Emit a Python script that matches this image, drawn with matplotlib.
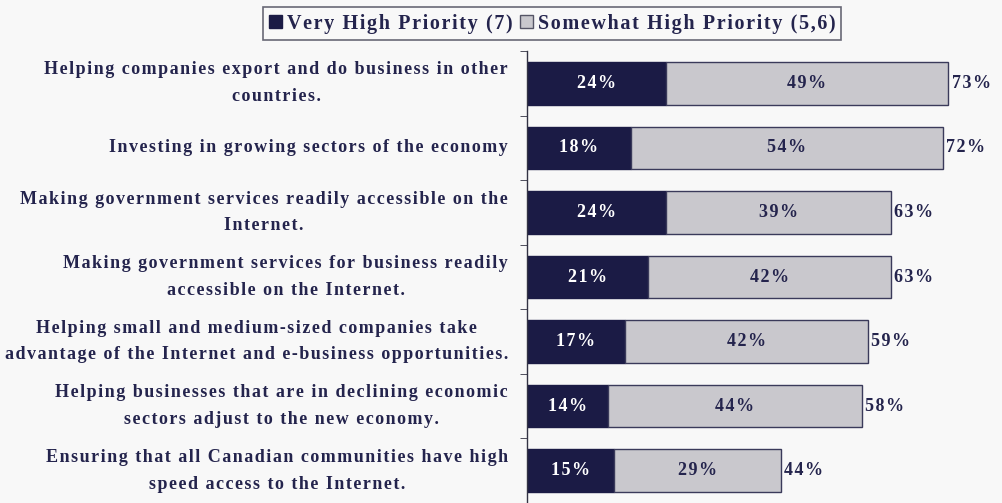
import matplotlib
matplotlib.use("Agg")
import matplotlib.pyplot as plt
from matplotlib.patches import Patch
import numpy as np

categories = [
    "Helping companies export and do business in other\ncountries.",
    "Investing in growing sectors of the economy",
    "Making government services readily accessible on the\nInternet.",
    "Making government services for business readily\naccessible on the Internet.",
    "Helping small and medium-sized companies take\nadvantage of the Internet and e-business opportunities.",
    "Helping businesses that are in declining economic\nsectors adjust to the new economy.",
    "Ensuring that all Canadian communities have high\nspeed access to the Internet.",
]
very_high = [24, 18, 24, 21, 17, 14, 15]
somewhat_high = [49, 54, 39, 42, 42, 44, 29]
totals = [73, 72, 63, 63, 59, 58, 44]
legend_labels = ["Very High Priority (7)", "Somewhat High Priority (5,6)"]

NAVY = "#1b1b45"
LIGHT = "#c9c8cd"
TEXT = "#24244d"
BG = "#f8f8f8"
FONTS = ["Liberation Serif", "DejaVu Serif"]
FS = 13


def track(s):
    """Widen letter spacing with hair spaces, line by line."""
    return "\n".join("\u200a".join(line) for line in s.split("\n"))


fig = plt.figure(figsize=(10.02, 5.03), dpi=100, facecolor=BG)
ax = fig.add_axes([527 / 1002, 0.0, 475 / 1002, 452 / 503])
ax.set_facecolor(BG)

y = np.arange(len(categories))
h = 0.66
ax.barh(y, very_high, height=h, color=NAVY, edgecolor=NAVY, linewidth=1.0)
ax.barh(y, somewhat_high, left=very_high, height=h, color=LIGHT,
        edgecolor="#3a3a5a", linewidth=1.0)

style = dict(fontsize=FS, fontweight="bold", family=FONTS)
for i in range(len(categories)):
    ax.text(very_high[i] / 2, y[i], track(f"{very_high[i]}%"), ha="center",
            va="center", color="white", **style)
    ax.text(very_high[i] + somewhat_high[i] / 2, y[i], track(f"{somewhat_high[i]}%"),
            ha="center", va="center", color=TEXT, **style)
    ax.text(very_high[i] + somewhat_high[i] + 0.6, y[i], track(f"{totals[i]}%"),
            ha="left", va="center", color=TEXT, **style)

ax.set_xlim(0, 82.3)
ax.set_ylim(len(categories) - 0.5, -0.5)
for s in ["top", "right", "bottom"]:
    ax.spines[s].set_visible(False)
ax.spines["left"].set_color("#333344")
ax.spines["left"].set_linewidth(1.0)
ax.set_xticks([])

ax.set_yticks(y)
ax.set_yticklabels([])
ax.tick_params(axis="y", which="major", length=0)
ax.set_yticks(np.arange(-0.5, len(categories), 1.0), minor=True)
ax.tick_params(axis="y", which="minor", length=5, color="#333344", direction="out")

# category labels: right-aligned blocks, lines centred within each block
for i, lab in enumerate(categories):
    ax.text(-19 / 5.77, y[i], track(lab), ha="right", va="center",
            multialignment="center", color=TEXT, linespacing=1.75, **style)

handles = [Patch(facecolor=NAVY, edgecolor=NAVY),
           Patch(facecolor=LIGHT, edgecolor="#555566")]
leg = fig.legend(handles, [track(l) for l in legend_labels], loc="center",
                 bbox_to_anchor=(552 / 1002, 1 - 23.5 / 503),
                 ncol=2, frameon=True, fancybox=False, edgecolor="#444455",
                 prop={"family": FONTS, "weight": "bold", "size": 14.5},
                 handlelength=0.65, handleheight=0.65, handletextpad=0.25,
                 columnspacing=0.35, borderpad=0.3, borderaxespad=0,
                 facecolor=BG)
leg.get_frame().set_linewidth(1.2)
for t in leg.get_texts():
    t.set_color(TEXT)

fig.savefig("out.png", dpi=100, facecolor=BG)
